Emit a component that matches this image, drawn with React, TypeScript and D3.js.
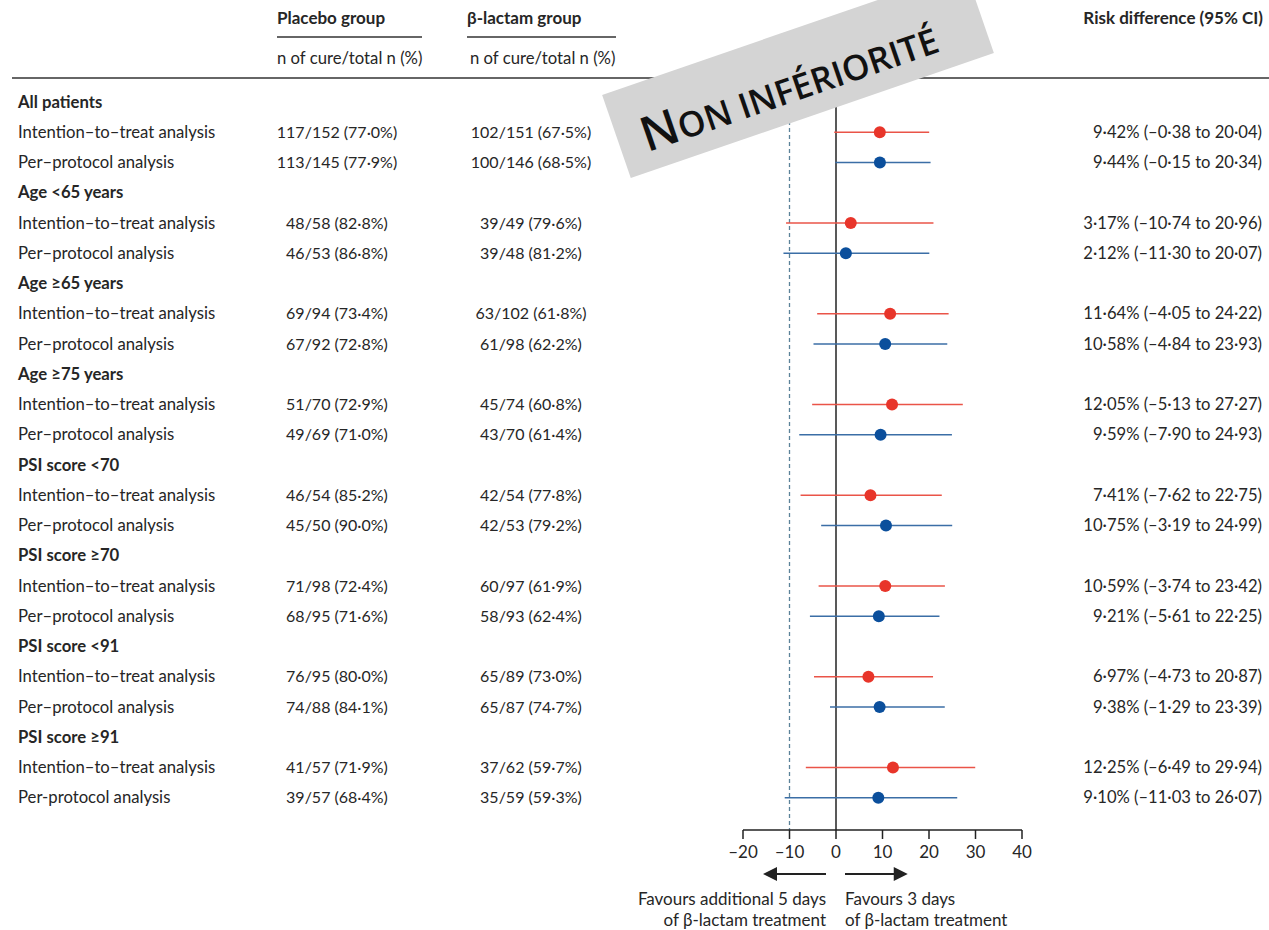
import React from "react";
import * as d3 from "d3";

const groupLabels = [
  "All patients",
  "Age <65 years",
  "Age ≥65 years",
  "Age ≥75 years",
  "PSI score <70",
  "PSI score ≥70",
  "PSI score <91",
  "PSI score ≥91",
];

const analysisLabels = [
  ["Intention–to–treat analysis", "Per–protocol analysis"],
  ["Intention–to–treat analysis", "Per–protocol analysis"],
  ["Intention–to–treat analysis", "Per–protocol analysis"],
  ["Intention–to–treat analysis", "Per–protocol analysis"],
  ["Intention–to–treat analysis", "Per–protocol analysis"],
  ["Intention–to–treat analysis", "Per–protocol analysis"],
  ["Intention–to–treat analysis", "Per–protocol analysis"],
  ["Intention–to–treat analysis", "Per-protocol analysis"],
];

const placeboText = [
  ["117/152 (77·0%)", "113/145 (77·9%)"],
  ["48/58 (82·8%)", "46/53 (86·8%)"],
  ["69/94 (73·4%)", "67/92 (72·8%)"],
  ["51/70 (72·9%)", "49/69 (71·0%)"],
  ["46/54 (85·2%)", "45/50 (90·0%)"],
  ["71/98 (72·4%)", "68/95 (71·6%)"],
  ["76/95 (80·0%)", "74/88 (84·1%)"],
  ["41/57 (71·9%)", "39/57 (68·4%)"],
];

const betaText = [
  ["102/151 (67·5%)", "100/146 (68·5%)"],
  ["39/49 (79·6%)", "39/48 (81·2%)"],
  ["63/102 (61·8%)", "61/98 (62·2%)"],
  ["45/74 (60·8%)", "43/70 (61·4%)"],
  ["42/54 (77·8%)", "42/53 (79·2%)"],
  ["60/97 (61·9%)", "58/93 (62·4%)"],
  ["65/89 (73·0%)", "65/87 (74·7%)"],
  ["37/62 (59·7%)", "35/59 (59·3%)"],
];

// [estimate, lower, upper] for ITT and PP per group
const ittEstimates = [
  [9.42, -0.38, 20.04],
  [3.17, -10.74, 20.96],
  [11.64, -4.05, 24.22],
  [12.05, -5.13, 27.27],
  [7.41, -7.62, 22.75],
  [10.59, -3.74, 23.42],
  [6.97, -4.73, 20.87],
  [12.25, -6.49, 29.94],
];

const ppEstimates = [
  [9.44, -0.15, 20.34],
  [2.12, -11.3, 20.07],
  [10.58, -4.84, 23.93],
  [9.59, -7.9, 24.93],
  [10.75, -3.19, 24.99],
  [9.21, -5.61, 22.25],
  [9.38, -1.29, 23.39],
  [9.1, -11.03, 26.07],
];

const axisTicks = [-20, -10, 0, 10, 20, 30, 40];
const nonInferiorityMargin = -10;

const FONT = "Lato, 'Open Sans', sans-serif";
const TXT = "#262626";
const RED_DOT = "#e8352a";
const RED_LINE = "#ea5448";
const BLUE_DOT = "#0b4f9c";
const BLUE_LINE = "#3b6ea6";

const fmt = (v: number) => {
  const s = Math.abs(v).toFixed(2).replace(".", "·");
  return (v < 0 ? "–" : "") + s;
};

export default function App() {
  const x = d3.scaleLinear().domain([-20, 40]).range([743, 1022]);
  const rowY = (i: number) => 102 + i * 30.25;
  const axisY = 830;
  const fsLabel = 16.7;
  const fsNum = 16;
  const dy = 5.6;

  const rows: React.ReactNode[] = [];
  groupLabels.forEach((g, gi) => {
    const base = gi * 3;
    rows.push(
      <text key={"g" + gi} x={18} y={rowY(base) + dy} fontWeight={700} fontSize={fsLabel}>
        {g}
      </text>
    );
    [0, 1].forEach((k) => {
      const yy = rowY(base + 1 + k);
      const est = k === 0 ? ittEstimates[gi] : ppEstimates[gi];
      const dot = k === 0 ? RED_DOT : BLUE_DOT;
      const line = k === 0 ? RED_LINE : BLUE_LINE;
      rows.push(
        <g key={"r" + gi + k}>
          <text x={18} y={yy + dy} fontSize={fsLabel}>
            {analysisLabels[gi][k]}
          </text>
          <text x={337} y={yy + dy} fontSize={fsNum} textAnchor="middle">
            {placeboText[gi][k]}
          </text>
          <text x={531} y={yy + dy} fontSize={fsNum} textAnchor="middle">
            {betaText[gi][k]}
          </text>
          <line x1={x(est[1])} x2={x(est[2])} y1={yy} y2={yy} stroke={line} strokeWidth={1.6} />
          <circle cx={x(est[0])} cy={yy} r={6} fill={dot} />
          <text x={1262} y={yy + dy} fontSize={16.6} textAnchor="end">
            {`${fmt(est[0])}% (${fmt(est[1])} to ${fmt(est[2])})`}
          </text>
        </g>
      );
    });
  });

  return (
    <svg
      width={1269}
      height={930}
      style={{ position: "absolute", left: 0, top: 0, background: "#fff" }}
      fontFamily={FONT}
      fill={TXT}
    >
      <rect x={0} y={0} width={1269} height={930} fill="#fff" />
      {/* header */}
      <text x={277} y={24} fontSize={17} fontWeight={700}>Placebo group</text>
      <line x1={277} x2={422} y1={37} y2={37} stroke="#333" strokeWidth={1.4} />
      <text x={277} y={64} fontSize={16.7}>n of cure/total n (%)</text>
      <text x={467} y={24} fontSize={17} fontWeight={700}>β-lactam group</text>
      <line x1={467} x2={616} y1={37} y2={37} stroke="#333" strokeWidth={1.4} />
      <text x={470} y={64} fontSize={16.7}>n of cure/total n (%)</text>
      <text x={1263} y={24} fontSize={17} fontWeight={700} textAnchor="end">Risk difference (95% CI)</text>
      <line x1={12} x2={1269} y1={78} y2={78} stroke="#333" strokeWidth={1.5} />

      {/* reference lines */}
      <line
        x1={x(nonInferiorityMargin)}
        x2={x(nonInferiorityMargin)}
        y1={79}
        y2={axisY}
        stroke="#5b8299"
        strokeWidth={1.3}
        strokeDasharray="4,3"
      />
      <line x1={x(0)} x2={x(0)} y1={79} y2={axisY} stroke="#222" strokeWidth={1.5} />

      {rows}

      {/* axis */}
      <line x1={x(-20)} x2={x(40)} y1={axisY} y2={axisY} stroke="#222" strokeWidth={1.5} />
      {axisTicks.map((t) => (
        <g key={"t" + t}>
          <line x1={x(t)} x2={x(t)} y1={axisY} y2={axisY + 9} stroke="#222" strokeWidth={1.5} />
          <text x={x(t)} y={axisY + 28} fontSize={17} textAnchor="middle">
            {t < 0 ? "–" + Math.abs(t) : String(t)}
          </text>
        </g>
      ))}

      {/* arrows */}
      <line x1={x(0) - 10} x2={x(-20) + 30} y1={874} y2={874} stroke="#222" strokeWidth={1.8} />
      <path d={`M${x(-20) + 20},874 L${x(-20) + 34},867 L${x(-20) + 34},881 Z`} fill="#222" />
      <line x1={x(0) + 9} x2={x(15) - 10} y1={874} y2={874} stroke="#222" strokeWidth={1.8} />
      <path d={`M${x(15) + 2},874 L${x(15) - 12},867 L${x(15) - 12},881 Z`} fill="#222" />
      <text x={x(0) - 10} y={905} fontSize={17} textAnchor="end">Favours additional 5 days</text>
      <text x={x(0) - 10} y={926} fontSize={17} textAnchor="end">of β-lactam treatment</text>
      <text x={x(0) + 9} y={905} fontSize={17}>Favours 3 days</text>
      <text x={x(0) + 9} y={926} fontSize={17}>of β-lactam treatment</text>

      {/* banner */}
      <g transform="translate(798,74) rotate(-19)">
        <rect x={-192} y={-44} width={384} height={88} fill="#d4d4d4" />
        <text x={-168} y={25} fill="#111" fontFamily="'Open Sans', sans-serif" fontWeight={600}>
          <tspan fontSize={48}>N</tspan>
          <tspan fontSize={35}>ON INFÉRIORITÉ</tspan>
        </text>
      </g>
    </svg>
  );
}
